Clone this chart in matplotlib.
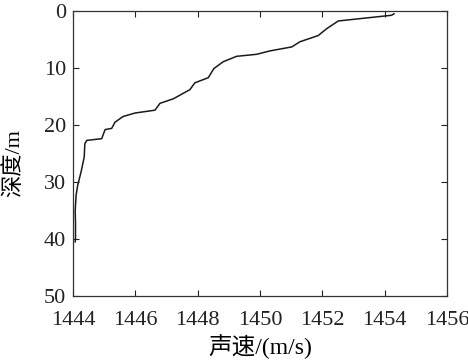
import matplotlib
matplotlib.use("Agg")
import matplotlib.pyplot as plt

# sound speed profile
speed = [1454.30, 1454.22, 1452.51, 1452.14, 1451.87, 1451.28, 1451.02, 1450.32,
         1449.89, 1449.25, 1448.82, 1448.52, 1448.34, 1447.91, 1447.75, 1447.22,
         1446.79, 1446.63, 1445.99, 1445.61, 1445.35, 1445.24, 1445.03, 1444.92,
         1444.44, 1444.38, 1444.36, 1444.26, 1444.15, 1444.10, 1444.07, 1444.08,
         1444.08, 1444.07]
depth = [0.5, 0.75, 1.75, 3.1, 4.3, 5.4, 6.3, 7.0,
         7.6, 7.95, 8.9, 10.1, 11.7, 12.6, 13.8, 15.4,
         16.2, 17.4, 17.9, 18.5, 19.5, 20.6, 20.8, 22.4,
         22.7, 23.3, 25.6, 28.2, 30.6, 32.3, 35.0, 37.3,
         39.9, 40.5]
xticks = [1444, 1446, 1448, 1450, 1452, 1454, 1456]
yticks = [0, 10, 20, 30, 40, 50]

fam = ['Liberation Serif', 'Noto Sans CJK SC']
plt.rcParams['font.family'] = fam

fig = plt.figure(figsize=(4.68, 3.63), dpi=100)
ax = fig.add_axes([73/468, 1-296/363, 374/468, 285/363])
ax.plot(speed, depth, color='#1a1a1a', lw=1.1)
ax.set_xlim(1444, 1456)
ax.set_ylim(50, 0)
ax.set_xticks(xticks)
ax.set_yticks(yticks)
ax.tick_params(direction='in', top=True, right=True, length=4, width=0.8,
               labelsize=16, colors='#222222')
ax.tick_params(axis='x', pad=11)
ax.tick_params(axis='y', pad=5)
for s in ax.spines.values():
    s.set_linewidth(0.9)
    s.set_color('#333333')
ax.set_xlabel('声速/(m/s)', fontsize=17, labelpad=3, family=fam)
ax.set_ylabel('深度/m', fontsize=16, family=fam)
ax.yaxis.set_label_coords(-0.13, 0.467)

fig.savefig('out.png', dpi=100)
